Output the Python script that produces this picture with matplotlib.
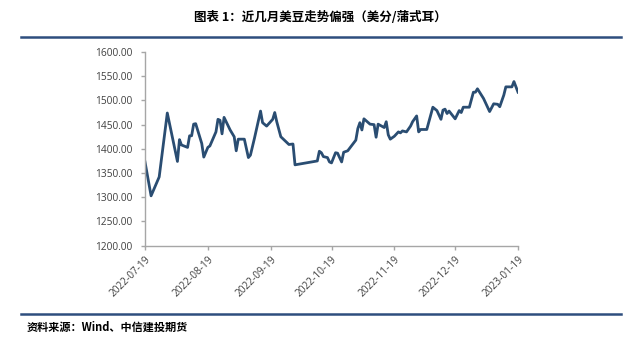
import matplotlib
matplotlib.use("Agg")
import matplotlib.pyplot as plt
import matplotlib.dates as mdates
from matplotlib.lines import Line2D
import pandas as pd

plt.rcParams['font.family'] = ['Open Sans', 'Noto Sans CJK SC', 'DejaVu Sans']

title = "图表 1：近几月美豆走势偏强（美分/蒲式耳）"
source = "资料来源：Wind、中信建投期货"

dates = [
    "2022-07-19", "2022-07-22", "2022-07-26", "2022-07-30", "2022-08-04", "2022-08-05",
    "2022-08-06", "2022-08-09", "2022-08-10", "2022-08-11", "2022-08-12", "2022-08-13",
    "2022-08-16", "2022-08-17", "2022-08-19", "2022-08-20", "2022-08-23", "2022-08-24",
    "2022-08-25", "2022-08-26", "2022-08-27", "2022-08-30", "2022-09-01", "2022-09-02",
    "2022-09-03", "2022-09-06", "2022-09-08", "2022-09-09", "2022-09-11", "2022-09-14",
    "2022-09-15", "2022-09-17", "2022-09-20", "2022-09-21", "2022-09-22", "2022-09-24",
    "2022-09-28", "2022-09-30", "2022-10-01", "2022-10-12", "2022-10-13", "2022-10-14",
    "2022-10-15", "2022-10-17", "2022-10-18", "2022-10-19", "2022-10-21", "2022-10-22",
    "2022-10-24", "2022-10-25", "2022-10-27", "2022-10-31", "2022-11-01", "2022-11-02",
    "2022-11-03", "2022-11-04", "2022-11-07", "2022-11-09", "2022-11-10", "2022-11-11",
    "2022-11-14", "2022-11-15", "2022-11-16", "2022-11-17", "2022-11-19", "2022-11-21",
    "2022-11-22", "2022-11-23", "2022-11-25", "2022-11-27", "2022-11-28", "2022-11-30",
    "2022-12-01", "2022-12-02", "2022-12-05", "2022-12-08", "2022-12-10", "2022-12-12",
    "2022-12-13", "2022-12-14", "2022-12-15", "2022-12-16", "2022-12-19", "2022-12-21",
    "2022-12-22", "2022-12-23", "2022-12-26", "2022-12-28", "2022-12-29", "2022-12-30",
    "2023-01-02", "2023-01-05", "2023-01-07", "2023-01-09", "2023-01-10", "2023-01-12",
    "2023-01-13", "2023-01-16", "2023-01-17", "2023-01-19",
]
prices = [
    1373, 1303, 1342, 1474, 1374, 1419,
    1408, 1403, 1427, 1427, 1451, 1452,
    1411, 1383, 1403, 1406, 1435, 1461,
    1459, 1431, 1465, 1439, 1425, 1396,
    1420, 1420, 1382, 1387, 1422, 1478,
    1454, 1447, 1461, 1475, 1456, 1425,
    1409, 1410, 1367, 1375, 1395, 1392,
    1384, 1382, 1373, 1371, 1392, 1391,
    1373, 1393, 1396, 1418, 1442, 1454,
    1439, 1462, 1451, 1450, 1424, 1451,
    1444, 1456, 1429, 1420, 1426, 1435,
    1433, 1437, 1435, 1447, 1456, 1468,
    1435, 1440, 1440, 1486, 1479, 1461,
    1480, 1482, 1473, 1478, 1462, 1479,
    1475, 1486, 1486, 1517, 1517, 1524,
    1504, 1477, 1493, 1492, 1487, 1511,
    1528, 1528, 1539, 1517,
]
tick_labels = ["2022-07-19", "2022-08-19", "2022-09-19", "2022-10-19",
               "2022-11-19", "2022-12-19", "2023-01-19"]
y_ticks = [1200, 1250, 1300, 1350, 1400, 1450, 1500, 1550, 1600]

x = pd.to_datetime(dates)
ticks = pd.to_datetime(tick_labels)

fig = plt.figure(figsize=(6.4, 3.42), dpi=100)
ax = fig.add_axes([145/640, 1 - 245.7/342, (518 - 145)/640, (245.7 - 52)/342])

ax.plot(x, prices, color='#2a4d72', linewidth=2.0, solid_joinstyle='round')

ax.set_xlim(ticks[0], ticks[-1])
ax.set_ylim(1200, 1600)
ax.set_yticks(y_ticks)
ax.set_yticklabels([f"{v:.2f}" for v in y_ticks])
ax.set_xticks(ticks)
ax.set_xticklabels(tick_labels, rotation=45, ha='right', rotation_mode='anchor')

for s in ['top', 'right']:
    ax.spines[s].set_visible(False)
for s in ['left', 'bottom']:
    ax.spines[s].set_color('#a6a6a6')
    ax.spines[s].set_linewidth(1.0)
ax.tick_params(axis='both', colors='#a6a6a6', length=3, width=1, labelcolor='#404040', labelsize=7.3)
ax.tick_params(axis='y', pad=6)
ax.tick_params(axis='x', pad=3)

fig.text(0.5, 1 - 17/342, title, ha='center', va='center', fontsize=9, fontweight='bold',
         family=['Noto Sans CJK SC', 'DejaVu Sans'], color='#000000')
fig.add_artist(Line2D([21/640, 621/640], [1 - 37/342, 1 - 37/342], color='#2e4e7e', linewidth=1.8))
fig.add_artist(Line2D([21/640, 621/640], [1 - 314/342, 1 - 314/342], color='#2e4e7e', linewidth=1.8))
fig.text(27/640, 1 - 327/342, source, ha='left', va='center', fontsize=8, fontweight='bold',
         style='italic', family=['Noto Sans CJK SC', 'DejaVu Sans'], color='#000000')

fig.savefig('out.png', dpi=100)
